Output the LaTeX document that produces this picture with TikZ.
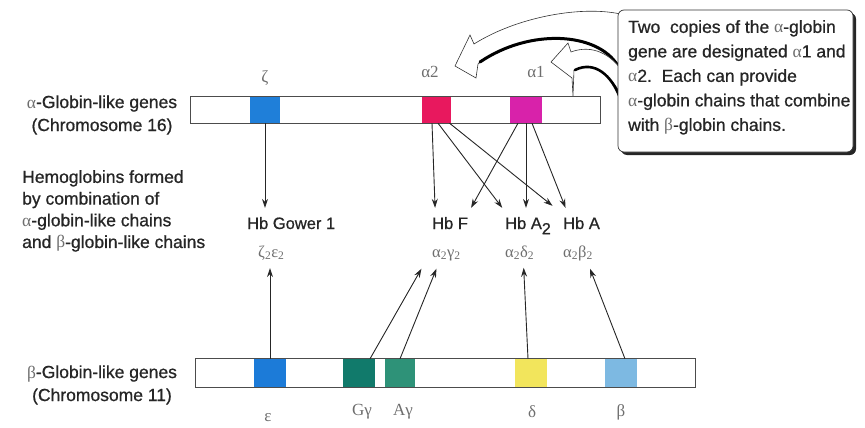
\documentclass[tikz,border=0pt]{standalone}
\usepackage{fontspec}
\setmainfont[FakeBold=0.8]{Liberation Sans}
\newfontfamily\grk{Liberation Serif}
\usetikzlibrary{arrows.meta}
\definecolor{txt}{HTML}{262626}
\definecolor{gk}{HTML}{6E6E6E}
\definecolor{czeta}{HTML}{1F7FD9}
\definecolor{calphatwo}{HTML}{E8185E}
\definecolor{calphaone}{HTML}{D822AA}
\definecolor{ceps}{HTML}{1C7BD8}
\definecolor{cgg}{HTML}{117A6B}
\definecolor{cag}{HTML}{2E9278}
\definecolor{cdel}{HTML}{F2E55C}
\definecolor{cbet}{HTML}{7DB9E2}
\newcommand\GA{{\grk\color{gk}α}}
\newcommand\GB{{\grk\color{gk}β}}
\begin{document}
\begin{tikzpicture}[x=1pt,y=-1pt,
  bar/.style={draw=black!70, line width=0.8pt, fill=white, inner sep=0pt},
  gene/.style={draw=none, inner sep=0pt, minimum height=26pt},
  arr/.style={draw=black!85, line width=0.9pt, -{Stealth[length=9pt,width=6pt]}},
  lbl/.style={text=txt, font=\fontsize{17.5}{23}\selectfont, inner sep=0pt},
  hb/.style={text=txt, font=\fontsize{16.5}{20}\selectfont, inner xsep=0pt, inner ysep=9pt, anchor=base west},
  gl/.style={text=gk, font=\grk\fontsize{16.5}{20}\selectfont, inner xsep=0pt, inner ysep=8pt, anchor=base west},
  glbl/.style={text=gk, font=\grk\fontsize{17}{20}\selectfont, inner sep=0pt}]
\useasboundingbox (0,0) rectangle (865,428);

% hollow curved arrows
\draw[black!80, line width=0.6pt, fill=white]
  (455,66) -- (470,35) -- (474,44) .. controls (520,15) and (590,4) .. (628,16)
  -- (622,70) .. controls (600,32) and (530,28) .. (478,64) -- (476,78) -- cycle;
\draw[black, line width=3pt, line cap=round] (480,62) .. controls (530,28) and (598,32) .. (618,66);
\draw[black!80, line width=0.6pt, fill=white]
  (551,62) -- (568,43) -- (571,52) .. controls (592,44) and (612,54) .. (624,74)
  -- (624,102) .. controls (615,78) and (595,60) .. (574,70) -- (573,96) -- (572,78) -- cycle;
\draw[black, line width=2.6pt, line cap=round] (575,70) .. controls (595,60) and (612,76) .. (620,98);

% callout box
\fill[black!85, rounded corners=6pt] (621,13) rectangle (856,155);
\draw[black!80, line width=0.7pt, fill=white, rounded corners=6pt] (618,10) rectangle (853,152);
\node[lbl, anchor=north west, align=left, font=\fontsize{17.5}{24.5}\selectfont] (note) at (628,20)
  {Two\ \ copies of the \GA-globin\\gene are designated {\grk\color{gk}α}1 and\\{\grk\color{gk}α}2.\ \ Each can provide\\\GA-globin chains that combine\\with \GB-globin chains.};

% top chromosome
\node[bar, minimum width=410pt, minimum height=27pt] (topbar) at (395,110) {};
\node[gene, fill=czeta, minimum width=30pt] (zeta) at (265,110) {};
\node[gene, fill=calphatwo, minimum width=29pt] (a2) at (436.5,110) {};
\node[gene, fill=calphaone, minimum width=32pt] (a1) at (526,110) {};
\node[glbl] (lzeta) at (265,78) {ζ};
\node[glbl] (la2) at (430,72) {α2};
\node[glbl] (la1) at (536,72) {α1};

% bottom chromosome
\node[bar, minimum width=500pt, minimum height=29pt] (botbar) at (445,373) {};
\node[gene, fill=ceps, minimum width=32pt, minimum height=28pt] (eps) at (270,373) {};
\node[gene, fill=cgg, minimum width=32pt, minimum height=28pt] (gg) at (359,373) {};
\node[gene, fill=cag, minimum width=30pt, minimum height=28pt] (ag) at (400,373) {};
\node[gene, fill=cdel, minimum width=32pt, minimum height=28pt] (del) at (531,373) {};
\node[gene, fill=cbet, minimum width=32pt, minimum height=28pt] (bet) at (621,373) {};
\node[glbl] (leps) at (268,418) {ε};
\node[glbl] (lgg) at (362,412) {Gγ};
\node[glbl] (lag) at (403,412) {Aγ};
\node[glbl] (ldel) at (532,412) {δ};
\node[glbl] (lbet) at (621,412) {β};

% left labels
\node[lbl, align=center] (ltop) at (102,115) {\GA-Globin-like genes\\(Chromosome 16)};
\node[lbl, align=center] (lbot) at (102,385) {\GB-Globin-like genes\\(Chromosome 11)};
\node[lbl, align=left, anchor=north west, font=\fontsize{17.5}{21.7}\selectfont] (lmid) at (22,170)
  {Hemoglobins formed\\by combination of\\\GA-globin-like chains\\and \GB-globin-like chains};

% hemoglobins
\node[hb] (gower) at (247,229) {Hb Gower 1};
\node[hb] (hbf) at (432,229) {Hb F};
\node[hb] (hba2) at (505,229) {Hb A\textsubscript{\fontsize{16}{16}\selectfont 2}};
\node[hb] (hba) at (563,229) {Hb A};
\node[gl] (zg) at (258,257) {ζ\textsubscript{2}ε\textsubscript{2}};
\node[gl] (fg) at (432,257) {α\textsubscript{2}γ\textsubscript{2}};
\node[gl] (a2g) at (505,257) {α\textsubscript{2}δ\textsubscript{2}};
\node[gl] (ag2) at (563,257) {α\textsubscript{2}β\textsubscript{2}};

% arrows from alpha-like genes
\draw[arr] (zeta.south) -- (zeta.south |- gower.north);
\draw[arr] ([xshift=-4.5pt]a2.south) -- ([xshift=-15pt]hbf.north);
\draw[arr] ([xshift=1.5pt]a2.south) -- ([xshift=-26pt]hba2.north);
\draw[arr] ([xshift=13pt]a2.south) -- ([xshift=-29pt,yshift=2pt]hba.north);
\draw[arr] ([xshift=-8pt]a1.south) -- ([xshift=21pt]hbf.north);
\draw[arr] (a1.south) -- (a1.south |- hba2.north);
\draw[arr] ([xshift=6pt]a1.south) -- ([xshift=-16pt]hba.north);

% arrows from beta-like genes
\draw[arr] (eps.north) -- (eps.north |- zg.south);
\draw[arr] ([xshift=11pt]gg.north) -- ([xshift=-25pt]fg.south);
\draw[arr] (ag.north) -- ([xshift=-10pt]fg.south);
\draw[arr] ([xshift=-3pt]del.north) -- ([xshift=4pt]a2g.south);
\draw[arr] ([xshift=4pt]bet.north) -- ([xshift=12pt]ag2.south);
\end{tikzpicture}
\end{document}
